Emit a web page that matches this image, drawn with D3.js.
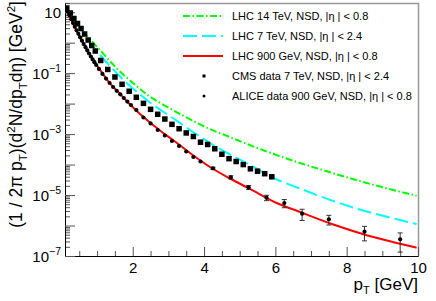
<!DOCTYPE html>
<html><head><meta charset="utf-8">
<script src="https://cdn.jsdelivr.net/npm/d3@7"></script>
<style>
body{margin:0;background:#fff}
svg{display:block}
text{font-family:"Liberation Sans",Arial,Helvetica,sans-serif;fill:#000}
</style></head>
<body><svg id="c" width="436" height="301"></svg>
<script>
// ---- data ----
const cmsPt  = [0.15,0.25,0.35,0.45,0.55,0.65,0.75,0.85,0.95,1.1,1.3,1.5,1.7,1.9,2.1,2.3,2.5,2.7,2.9,3.1,3.3,3.5,3.7,3.9,4.1,4.3,4.5,4.7,4.9,5.1,5.3,5.5,5.7,5.9];
const cmsVal = [13.7,9.4,6.2,4.25,2.91,1.92,1.22,0.807,0.532,0.26,0.132,0.0746,0.043,0.0254,0.0161,0.0102,0.0065,0.00446,0.00312,0.00209,0.0015,0.00109,0.000834,0.000542,0.000456,0.00033,0.000218,0.000156,0.000126,0.0001,7.26e-5,6.06e-5,5.02e-5,3.97e-5];

const alicePt  = [0.175,0.225,0.275,0.325,0.375,0.425,0.475,0.525,0.575,0.625,0.675,0.725,0.775,0.825,0.875,0.925,0.975,1.05,1.15,1.25,1.35,1.45,1.55,1.65,1.75,1.85,1.95,2.1,2.3,2.5,2.7,2.9,3.1,3.3,3.5,3.7,3.9,4.25,4.75,5.25,5.75,6.25,6.75,7.5,8.5,9.5];
const aliceVal = [10.5,7.9,5.9,4.4,3.34,2.54,1.95,1.5,1.16,0.904,0.71,0.557,0.441,0.351,0.282,0.229,0.185,0.137,0.0944,0.0662,0.0475,0.0351,0.0263,0.0202,0.0153,0.0117,0.009,0.00618,0.0035,0.00223,0.00136,0.0009,0.000593,0.000407,0.000268,0.000177,0.000126,7.55e-5,3.82e-5,1.79e-5,8.18e-6,5.48e-6,2.44e-6,1.6e-6,6.28e-7,3.53e-7];
const aliceRelErr = [0,0,0,0,0,0,0,0,0,0,0,0,0,0,0,0,0,0,0,0,0,0,0,0,0,0,0,0,0,0,0,0,0,0,0,0,0,0.08,0.12,0.15,0.2,0.3,0.4,0.35,0.5,0.62];

const lhc14Pt  = [0.148,0.613,1.081,1.55,2.015,2.484,2.95,3.557,3.886,4.82,5.756,6.69,7.624,8.56,9.494,9.96];
const lhc14Val = [11.8,2.29,0.574,0.144,0.0464,0.0169,0.00793,0.0033,0.00207,7.17e-4,2.68e-4,1.13e-4,5.18e-5,2.49e-5,1.29e-5,9.5e-6];

const lhc7Pt  = [0.148,0.521,0.801,1.081,1.362,1.642,1.923,2.203,2.484,2.764,3.185,3.605,4.166,4.727,5.288,6.037,6.69,7.624,8.56,9.494,9.96];
const lhc7Val = [13.2,3.03,1.01,0.394,0.171,0.0776,0.0379,0.0199,0.0109,0.00641,0.00301,0.00136,5.1e-4,2.14e-4,9.7e-5,3.24e-5,1.64e-5,6.38e-6,2.88e-6,1.52e-6,1.12e-6];

const lhc900Pt  = [0.148,0.3,0.521,0.801,1.081,1.362,1.642,1.923,2.203,2.484,2.764,3.185,3.605,4.166,4.727,5.288,6.037,6.69,7.624,8.56,9.494,9.96];
const lhc900Val = [12.2,4.94,1.49,0.4,0.128,0.0464,0.0207,0.00935,0.00456,0.0024,0.00131,5.71e-4,2.4e-4,8.32e-5,3.49e-5,1.58e-5,5.48e-6,2.78e-6,1.08e-6,4.82e-7,2.54e-7,1.87e-7];

const xMajorTicks = [2,4,6,8,10];
const yLabelExps = [1,-1,-3,-5,-7];
const legendLabels = [
  "LHC 14 TeV, NSD, |\u03B7 | < 0.8",
  "LHC 7 TeV, NSD, |\u03B7 | < 2.4",
  "LHC 900 GeV, NSD, |\u03B7 | < 0.8",
  "CMS data 7 TeV, NSD, |\u03B7 | < 2.4",
  "ALICE data 900 GeV, NSD, |\u03B7 | < 0.8"
];

// ---- layout ----
const L=65,R=418,T=3,B=256;
const svg=d3.select("#c");
const x=d3.scaleLinear().domain([0.1,10]).range([L,R]);
const y=d3.scaleLog().domain([1e-7,20]).range([B,T]);

svg.append("defs").append("clipPath").attr("id","clip")
  .append("rect").attr("x",L).attr("y",T).attr("width",R-L).attr("height",B-T);

// frame top/right
svg.append("path").attr("d",`M${L},${T+0.5}H${R+0.5}V${B}`).attr("fill","none").attr("stroke","#999").attr("stroke-width",1.5);

// x axis
const xMinor=d3.range(0.5,10.01,0.5).filter(v=>!xMajorTicks.includes(v));
const gx=svg.append("g").attr("transform",`translate(0,${B})`);
gx.call(d3.axisTop(x).tickValues(xMinor).tickSize(5).tickSizeOuter(0).tickFormat(""));
const gx2=svg.append("g").attr("transform",`translate(0,${B})`);
gx2.call(d3.axisTop(x).tickValues(xMajorTicks).tickSize(9).tickSizeOuter(0).tickFormat(""));
gx2.selectAll(".tick").append("text").attr("y",16.5).attr("text-anchor","middle")
  .attr("font-size",15).text(d=>d);

// y axis
const yMajor=d3.range(-7,2).map(e=>Math.pow(10,e));
const yMinor=[];
for(let e=-7;e<=1;e++){for(let m=2;m<=9;m++){const v=m*Math.pow(10,e); if(v<=20) yMinor.push(v);}}
const gy=svg.append("g").attr("transform",`translate(${L},0)`);
gy.call(d3.axisRight(y).tickValues(yMinor).tickSize(5).tickSizeOuter(0).tickFormat(""));
const gy2=svg.append("g").attr("transform",`translate(${L},0)`);
gy2.call(d3.axisRight(y).tickValues(yMajor).tickSize(10).tickSizeOuter(0).tickFormat(""));
svg.selectAll(".domain").attr("stroke","#000");
svg.selectAll(".tick line").attr("stroke","#555");

yLabelExps.forEach(e=>{
  const t=svg.append("text").attr("x",L-4).attr("y",y(Math.pow(10,e))+5.5).attr("text-anchor","end").attr("font-size",15);
  t.append("tspan").text("10");
  if(e!==1) t.append("tspan").attr("dy",-6.5).attr("font-size",10.5).text("\u2212"+Math.abs(e));
});

// axis titles
const xt=svg.append("text").attr("x",R).attr("y",290).attr("text-anchor","end").attr("font-size",17);
xt.append("tspan").text("p");
xt.append("tspan").attr("dy",4).attr("font-size",11).text("T");
xt.append("tspan").attr("dy",-4).text(" [GeV]");

const yt=svg.append("text").attr("transform","translate(22,1) rotate(-90)").attr("text-anchor","end").attr("font-size",17.5);
yt.append("tspan").text("(1 / 2\u03C0 p");
yt.append("tspan").attr("dy",4.5).attr("font-size",11.5).text("T");
yt.append("tspan").attr("dy",-4.5).text(")(d");
yt.append("tspan").attr("dy",-7).attr("font-size",11.5).text("2");
yt.append("tspan").attr("dy",7).text("N/dp");
yt.append("tspan").attr("dy",4.5).attr("font-size",11.5).text("T");
yt.append("tspan").attr("dy",-4.5).text("d\u03B7) [GeV");
yt.append("tspan").attr("dy",-7).attr("font-size",11.5).text("2");
yt.append("tspan").attr("dy",7).text("]");

// curves
const plot=svg.append("g").attr("clip-path","url(#clip)");
const line=d3.line().x(d=>x(d[0])).y(d=>y(d[1])).curve(d3.curveMonotoneX);
const curves=[
  {pt:lhc14Pt,val:lhc14Val,color:"#00ff00",dash:"7,2.5,1.5,2.5"},
  {pt:lhc7Pt,val:lhc7Val,color:"#00ffff",dash:"14,5"},
  {pt:lhc900Pt,val:lhc900Val,color:"#ff0000",dash:null}
];
curves.forEach(c=>{
  plot.append("path").datum(d3.zip(c.pt,c.val)).attr("d",line)
    .attr("fill","none").attr("stroke",c.color).attr("stroke-width",2)
    .attr("stroke-dasharray",c.dash);
});

// ALICE error bars
const alice=d3.zip(alicePt,aliceVal,aliceRelErr);
alice.filter(d=>d[2]>0).forEach(d=>{
  const y1=y(d[1]*(1+d[2])), y0=y(d[1]*(1-d[2])), xx=x(d[0]);
  plot.append("path").attr("d",`M${xx},${y1}V${y0}M${xx-2.5},${y1}H${xx+2.5}M${xx-2.5},${y0}H${xx+2.5}`)
    .attr("stroke","#333").attr("stroke-width",1).attr("fill","none");
});
// CMS squares
plot.selectAll("rect.cms").data(d3.zip(cmsPt,cmsVal)).enter().append("rect")
  .attr("x",d=>x(d[0])-2.75).attr("y",d=>y(d[1])-2.75).attr("width",5.5).attr("height",5.5).attr("fill","#000");
// ALICE circles
plot.selectAll("circle.al").data(alice).enter().append("circle")
  .attr("cx",d=>x(d[0])).attr("cy",d=>y(d[1])).attr("r",2.1).attr("fill","#000");

// legend
const lg=svg.append("g");
legendLabels.forEach((lab,i)=>{
  const yy=16+i*20;
  if(i<3){
    lg.append("line").attr("x1",183).attr("x2",223).attr("y1",yy).attr("y2",yy)
      .attr("stroke",curves[i].color).attr("stroke-width",2).attr("stroke-dasharray",curves[i].dash);
  } else if(i===3){
    lg.append("rect").attr("x",202.5).attr("y",yy-1.5).attr("width",3).attr("height",3).attr("fill","#000");
  } else {
    lg.append("circle").attr("cx",204).attr("cy",yy).attr("r",1.5).attr("fill","#000");
  }
  lg.append("text").attr("x",232).attr("y",yy+4).attr("font-size",11).text(lab);
});
</script></body></html>
